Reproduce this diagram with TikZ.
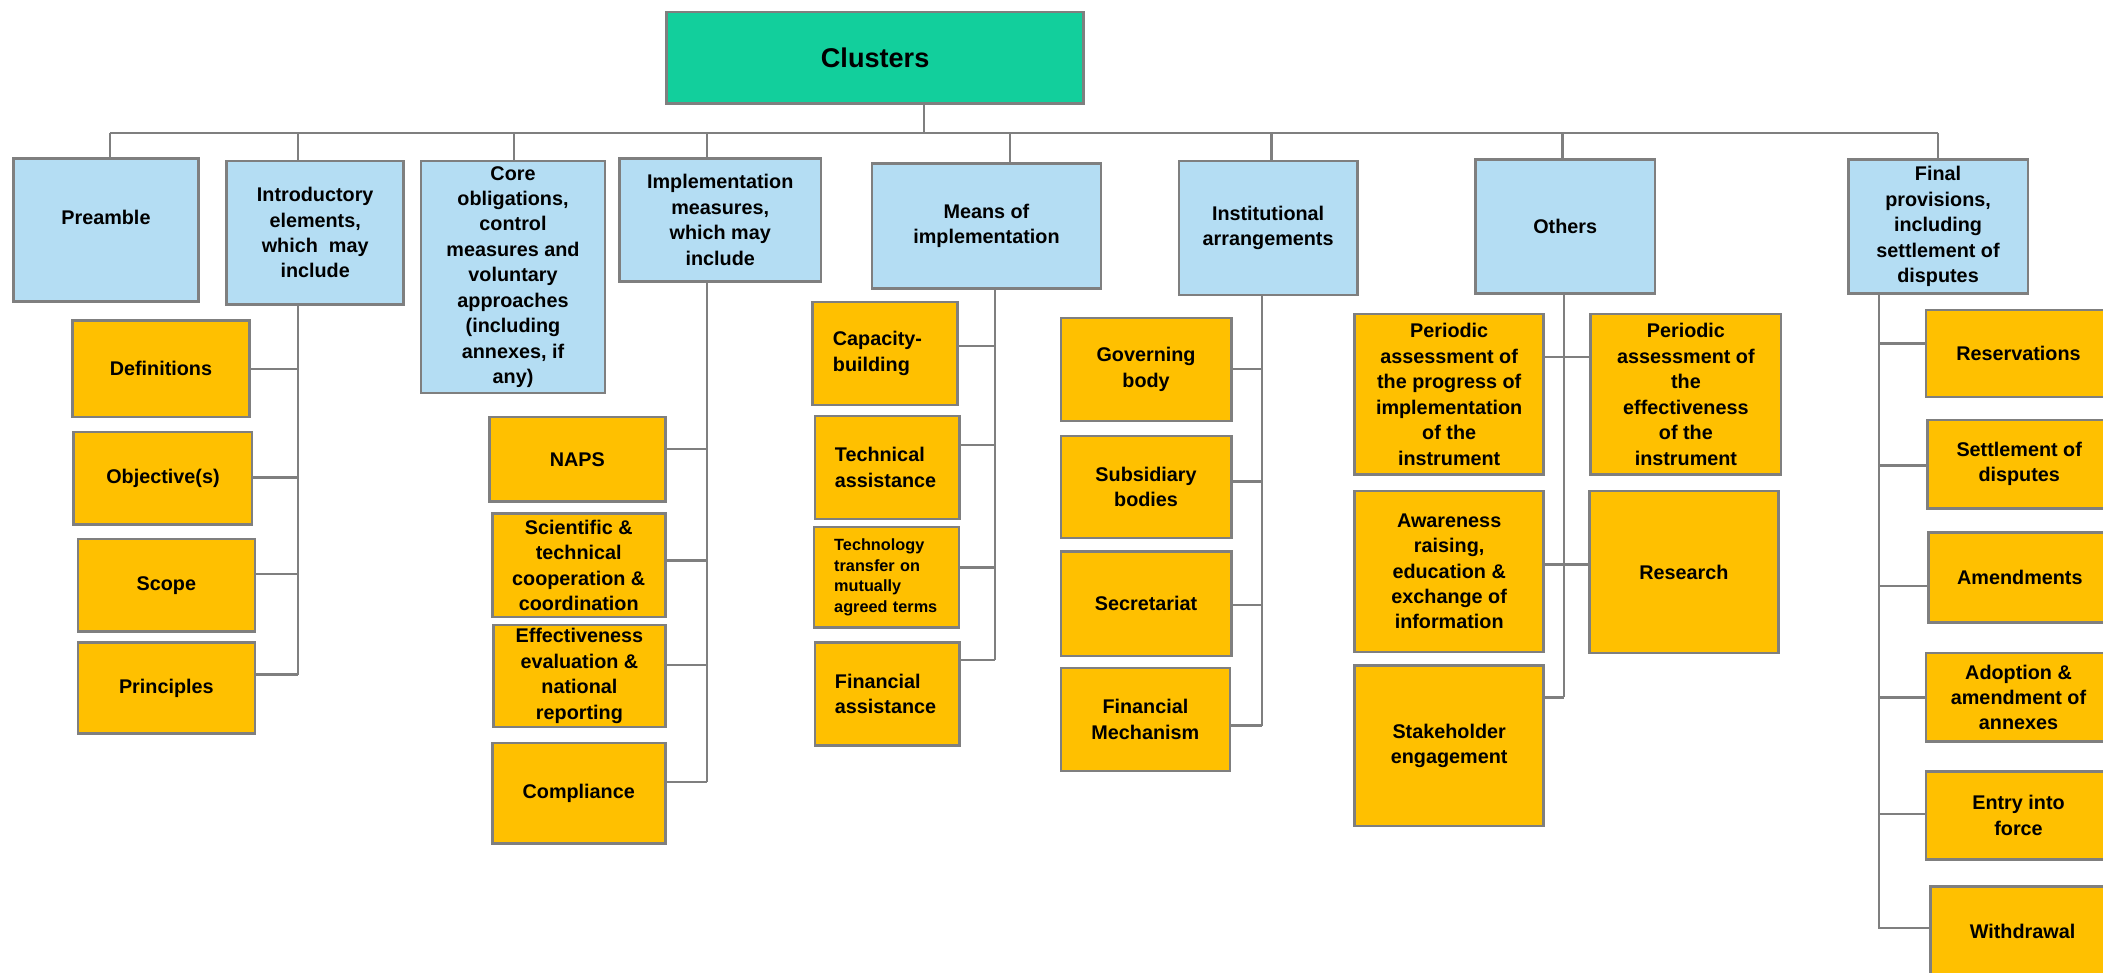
\documentclass[tikz,border=0pt]{standalone}
\usepackage{fontspec}
\setmainfont{Liberation Sans}
\definecolor{clgreen}{HTML}{12CF9C}
\definecolor{clblue}{HTML}{B4DDF3}
\definecolor{clorange}{HTML}{FFC000}
\definecolor{clgray}{HTML}{7F7F7F}

\begin{document}
\begin{tikzpicture}[x=0.02cm,y=-0.02cm,
        box/.style={draw=clgray,line width=1.1pt,inner sep=1pt,align=center,
          font=\bfseries\fontsize{8.4}{10.8}\selectfont},
        rootbox/.style={box,fill=clgreen,font=\bfseries\fontsize{11.5}{13}\selectfont},
        headbox/.style={box,fill=clblue},
        leafbox/.style={box,fill=clorange},
        leftbox/.style={leafbox,align=left,inner xsep=0.3cm,text width=1.56cm},
        link/.style={draw=clgray,line width=1pt}]

  \useasboundingbox (0,0) rectangle (1568,725);

  \node[rootbox,minimum width=6.22cm,minimum height=1.36cm] (root) at (652.5,43) {Clusters};

  \node[headbox,minimum width=2.76cm,minimum height=2.14cm] (pre)   at (79,171.5)   {Preamble\\\mbox{}};
  \node[headbox,minimum width=2.64cm,minimum height=2.14cm] (intro) at (235,173.5)  {Introductory\\elements,\\which\ \ may\\include};
  \node[headbox,minimum width=2.74cm,minimum height=3.46cm] (core)  at (382.5,206.5) {Core\\obligations,\\control\\measures and\\voluntary\\approaches\\(including\\annexes, if\\any)};
  \node[headbox,minimum width=3.00cm,minimum height=1.84cm] (impl)  at (537,164)    {Implementation\\measures,\\which may\\include};
  \node[headbox,minimum width=3.42cm,minimum height=1.86cm] (means) at (735.5,168.5) {Means of\\implementation};
  \node[headbox,minimum width=2.66cm,minimum height=2.00cm] (inst)  at (945.5,170)  {Institutional\\arrangements};
  \node[headbox,minimum width=2.68cm,minimum height=2.00cm] (oth)   at (1167,169)   {Others};
  \node[headbox,minimum width=2.68cm,minimum height=2.00cm] (fin)   at (1445,169)   {Final\\provisions,\\including\\settlement of\\disputes};

  \node[leafbox,minimum width=2.64cm,minimum height=1.44cm] (def)   at (120,275)    {Definitions};
  \node[leafbox,minimum width=2.66cm,minimum height=1.38cm] (obj)   at (121.5,356.5) {Objective(s)};
  \node[leafbox,minimum width=2.64cm,minimum height=1.38cm] (scope) at (124,436.5)  {Scope};
  \node[leafbox,minimum width=2.64cm,minimum height=1.36cm] (princ) at (124,513)    {Principles};

  \node[leafbox,minimum width=2.62cm,minimum height=1.26cm] (naps)  at (430.5,342.5) {NAPS};
  \node[leafbox,minimum width=2.58cm,minimum height=1.54cm] (sci)   at (431.5,421.5) {Scientific \&\\technical\\cooperation \&\\coordination};
  \node[leafbox,minimum width=2.56cm,minimum height=1.52cm] (eff)   at (432,504)    {Effectiveness\\evaluation \&\\national\\reporting};
  \node[leafbox,minimum width=2.58cm,minimum height=1.50cm] (comp)  at (431.5,591.5) {Compliance};

  \node[leftbox,minimum height=1.54cm] (cap)    at (660,263.5)   {Capacity-\\building};
  \node[leftbox,minimum height=1.54cm] (tech)   at (661.5,348.5) {Technical\\assistance};
  \node[leftbox,minimum height=1.50cm,font=\bfseries\fontsize{6.9}{8.8}\selectfont] (transf) at (661,430.5) {Technology\\transfer on\\mutually\\agreed terms};
  \node[leftbox,minimum height=1.54cm] (fina)   at (661.5,517.5) {Financial\\assistance};

  \node[leafbox,minimum width=2.54cm,minimum height=1.54cm] (gov)   at (854.5,275.5) {Governing\\body};
  \node[leafbox,minimum width=2.54cm,minimum height=1.52cm] (sub)   at (854.5,363)  {Subsidiary\\bodies};
  \node[leafbox,minimum width=2.54cm,minimum height=1.56cm] (sec)   at (854.5,450)  {Secretariat};
  \node[leafbox,minimum width=2.52cm,minimum height=1.54cm] (finm)  at (854,536.5)  {Financial\\Mechanism};

  \node[leafbox,minimum width=2.82cm,minimum height=2.40cm] (perp)  at (1080.5,294) {Periodic\\assessment of\\the progress of\\implementation\\of the\\instrument};
  \node[leafbox,minimum width=2.84cm,minimum height=2.40cm] (pere)  at (1257,294)   {Periodic\\assessment of\\the\\effectiveness\\of the\\instrument};
  \node[leafbox,minimum width=2.82cm,minimum height=2.40cm] (aware) at (1080.5,426) {Awareness\\raising,\\education \&\\exchange of\\information};
  \node[leafbox,minimum width=2.82cm,minimum height=2.42cm] (res)   at (1255.5,426.5) {Research};
  \node[leafbox,minimum width=2.82cm,minimum height=2.40cm] (stake) at (1080.5,556) {Stakeholder\\engagement};

  \node[leafbox,minimum width=2.76cm,minimum height=1.30cm] (reserv) at (1505,263.5) {Reservations};
  \node[leafbox,minimum width=2.74cm,minimum height=1.32cm] (settle) at (1505.5,346) {Settlement of\\disputes};
  \node[leafbox,minimum width=2.72cm,minimum height=1.34cm] (amend)  at (1506,430.5) {Amendments};
  \node[leafbox,minimum width=2.76cm,minimum height=1.32cm] (adopt)  at (1505,520)  {Adoption \&\\amendment of\\annexes};
  \node[leafbox,minimum width=2.76cm,minimum height=1.32cm] (entry)  at (1505,608)  {Entry into\\force};
  \node[leafbox,minimum width=2.74cm,minimum height=1.34cm] (withd)  at (1508,694.5) {Withdrawal};

  \coordinate (busL)   at (82,99);
  \coordinate (busR)   at (1445,99);
  \coordinate (tIntro) at (222,0);
  \coordinate (tImpl)  at (527,0);
  \coordinate (tMeans) at (742,0);
  \coordinate (tInst)  at (941,0);
  \coordinate (tOth)   at (1166,0);
  \coordinate (tFin)   at (1401,0);

  \draw[link] (busL) -- (busR);
  \draw[link] (root.south -| 689,0) -- (busL -| 689,0);
  \foreach \n/\x in {pre/82,intro/222,core/383,impl/527,means/753,inst/948,oth/1165,fin/1445}
    \draw[link] (busL -| \x,0) -- (\n.north -| \x,0);

  \draw[link] (intro.south -| tIntro) -- (tIntro |- 0,503);
  \foreach \n/\y in {def/275,obj/356,scope/428,princ/503}
    \draw[link] (\n.east |- 0,\y) -- (tIntro |- 0,\y);

  \draw[link] (impl.south -| tImpl) -- (tImpl |- 0,583);
  \foreach \n/\y in {naps/335,sci/418,eff/496,comp/583}
    \draw[link] (\n.east |- 0,\y) -- (tImpl |- 0,\y);

  \draw[link] (means.south -| tMeans) -- (tMeans |- 0,492);
  \foreach \n/\y in {cap/258,tech/332,transf/423,fina/492}
    \draw[link] (\n.east |- 0,\y) -- (tMeans |- 0,\y);

  \draw[link] (inst.south -| tInst) -- (tInst |- 0,541);
  \foreach \n/\y in {gov/275,sub/359,sec/451,finm/541}
    \draw[link] (\n.east |- 0,\y) -- (tInst |- 0,\y);

  \draw[link] (oth.south -| tOth) -- (tOth |- 0,520);
  \foreach \n/\y in {perp/266,aware/421,stake/520}
    \draw[link] (\n.east |- 0,\y) -- (tOth |- 0,\y);
  \foreach \n/\y in {pere/266,res/421}
    \draw[link] (\n.west |- 0,\y) -- (tOth |- 0,\y);

  \draw[link] (fin.south -| tFin) -- (tFin |- 0,693);
  \foreach \n/\y in {reserv/256,settle/347,amend/437,adopt/520,entry/607,withd/692}
    \draw[link] (\n.west |- 0,\y) -- (tFin |- 0,\y);

\end{tikzpicture}
\end{document}
